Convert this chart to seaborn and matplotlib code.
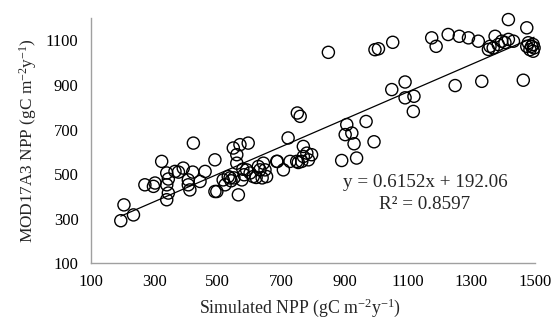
import matplotlib
matplotlib.use("Agg")
import matplotlib.pyplot as plt
import seaborn as sns
import numpy as np
import pandas as pd

# ---- data ----
simulated_npp = [
    194, 204, 234, 270, 297, 302, 323, 339, 339, 344, 339, 344, 365, 376, 391, 407, 407, 412,
    421, 423, 444, 460, 491, 491, 497, 517, 523, 533, 539, 542, 551, 549, 560, 560, 570, 596,
    565, 576, 579, 583, 591, 602, 612, 621, 628, 633, 640, 644, 649, 654, 686, 688, 707, 722,
    728, 749, 754, 751, 760, 765, 770, 770, 781, 786, 796,
    849, 891, 902, 907, 923, 930, 938, 968, 993, 996, 1007, 1049, 1052, 1091, 1091, 1119, 1117,
    1175, 1189, 1227, 1262, 1291, 1322, 1359, 1354, 1375, 1369, 1385, 1396, 1406, 1417, 1433,
    1417, 1475, 1480, 1490, 1495, 1485, 1495, 1498, 1475, 1249, 1333, 1464,
]
modis_npp = [
    291, 362, 317, 452, 445, 460, 557, 505, 452, 415, 385, 478, 512, 509, 527, 474, 452, 429,
    509, 639, 467, 512, 564, 422, 422, 474, 452, 489, 483, 470, 483, 617, 587, 549, 632, 639,
    407, 474, 522, 497, 519, 505, 489, 485, 534, 519, 483, 549, 519, 489, 557, 557, 519, 662,
    557, 557, 552, 774, 759, 557, 624, 579, 594, 564, 587,
    1046, 561, 677, 722, 684, 636, 572, 736, 645, 1058, 1062, 879, 1091, 913, 842, 849, 781,
    1111, 1073, 1126, 1118, 1111, 1096, 1073, 1059, 1118, 1066, 1081, 1096, 1090, 1104, 1096,
    1193, 1156, 1089, 1073, 1081, 1058, 1051, 1066, 1073, 897, 916, 921,
]
fit_slope = 0.6152
fit_intercept = 192.06
fit_r2 = 0.8597
equation_lines = ["y = 0.6152x + 192.06", "R\u00b2 = 0.8597"]
x_ticks = [100, 300, 500, 700, 900, 1100, 1300, 1500]
y_ticks = [100, 300, 500, 700, 900, 1100]
x_label = "Simulated NPP (gC m$^{\\mathregular{-2}}$y$^{\\mathregular{-1}}$)"
y_label = "MOD17A3 NPP (gC m$^{\\mathregular{-2}}$y$^{\\mathregular{-1}}$)"

df = pd.DataFrame({"sim": simulated_npp, "modis": modis_npp})
x_line = np.array([min(simulated_npp), max(simulated_npp)])
line_df = pd.DataFrame({"sim": x_line, "modis": fit_slope * x_line + fit_intercept})

sns.set_style("white")
plt.rcParams["font.family"] = ["Liberation Serif", "DejaVu Serif"]
plt.rcParams["mathtext.fontset"] = "custom"
plt.rcParams["mathtext.rm"] = "Liberation Serif"
plt.rcParams["mathtext.it"] = "Liberation Serif:italic"

fig = plt.figure(figsize=(5.53, 3.23), dpi=100)
ax = fig.add_axes([91 / 553, 1 - 263.3 / 323, (534.7 - 91) / 553, (263.3 - 18) / 323])

sns.lineplot(data=line_df, x="sim", y="modis", ax=ax, color="black", linewidth=0.9,
             zorder=3)
sns.scatterplot(data=df, x="sim", y="modis", ax=ax, marker="o", s=76,
                facecolor="none", edgecolor="black", linewidth=1.0, zorder=4,
                clip_on=False)

ax.set_xlim(100, 1500)
ax.set_ylim(100, 1200)
ax.set_xticks(x_ticks)
ax.set_yticks(y_ticks)
ax.tick_params(axis="both", labelsize=12, colors="#a0a0a0", labelcolor="black",
               direction="out", length=4, width=1, pad=4)
ax.tick_params(axis="y", length=5)
for side in ["top", "right"]:
    ax.spines[side].set_visible(False)
for side in ["left", "bottom"]:
    ax.spines[side].set_color("#a0a0a0")
    ax.spines[side].set_linewidth(1.0)

ax.set_xlabel(x_label, fontsize=12.8, labelpad=4)
ax.set_ylabel(y_label, fontsize=12.4, labelpad=5)
ax.xaxis.set_label_coords(0.47, -0.135)

ax.text(1154, 461, equation_lines[0], fontsize=13.8, ha="center", va="center")
ax.text(1154, 362, equation_lines[1], fontsize=13.8, ha="center", va="center")

fig.savefig("out.png", dpi=100)
